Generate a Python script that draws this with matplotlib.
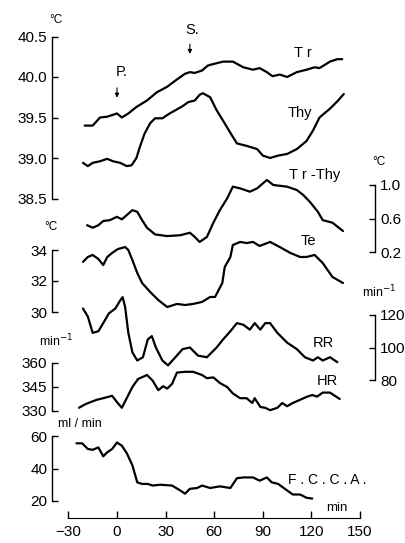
import matplotlib.pyplot as plt

plt.rcParams['font.family'] = ['Liberation Sans', 'DejaVu Sans']
plt.rcParams['lines.solid_joinstyle'] = 'round'
plt.rcParams['lines.solid_capstyle'] = 'round'

# traces (time in min)
tr_t = [-20, -15, -10.5, -6, -3, 0, 3, 7, 12, 18.5, 24.5, 31, 37, 42, 45, 48, 52.5, 56, 57.5, 65.5,
        71.5, 78, 84, 88, 92.5, 96, 100.5, 105, 111, 117, 122, 125, 131.5, 136, 139]
tr_v = [39.40, 39.40, 39.50, 39.51, 39.53, 39.55, 39.50, 39.55, 39.63, 39.71, 39.81, 39.88, 39.97,
        40.04, 40.06, 40.05, 40.08, 40.14, 40.15, 40.19, 40.19, 40.12, 40.09, 40.11, 40.06, 40.01,
        40.03, 40.00, 40.06, 40.09, 40.12, 40.11, 40.19, 40.22, 40.22]

thy_t = [-21, -18, -15, -10.5, -6, -2.5, 2, 6, 9, 12, 14, 17, 20.5, 23.5, 28, 32.5, 37, 40.5, 44, 48,
         51, 53, 57.5, 61.5, 65.5, 70, 74, 80, 86.5, 90, 94.5, 99.5, 105, 111, 117, 121, 125, 131.5,
         136.5, 140]
thy_v = [38.94, 38.90, 38.94, 38.96, 38.99, 38.96, 38.94, 38.90, 38.91, 39.00, 39.13, 39.30, 39.43,
         39.49, 39.49, 39.55, 39.60, 39.64, 39.69, 39.71, 39.78, 39.80, 39.75, 39.59, 39.46, 39.31,
         39.18, 39.15, 39.11, 39.03, 39.00, 39.03, 39.05, 39.11, 39.21, 39.34, 39.50, 39.61, 39.71,
         39.79]

diff_t = [-18.5, -15, -11.5, -8.5, -4.5, 0, 3, 6, 9.5, 12.5, 15.5, 18.5, 23.5, 31, 39, 45, 48, 51,
          55.5, 59.5, 63.5, 68, 71.5, 76, 82, 86.5, 92.5, 96.5, 105, 111, 115, 119, 124, 127, 133,
          139.5]
diff_v = [0.52, 0.49, 0.52, 0.57, 0.58, 0.62, 0.59, 0.64, 0.70, 0.68, 0.58, 0.49, 0.41, 0.39, 0.40,
          0.43, 0.38, 0.32, 0.38, 0.55, 0.70, 0.84, 0.98, 0.96, 0.92, 0.96, 1.06, 1.00, 0.98, 0.94,
          0.88, 0.80, 0.68, 0.58, 0.55, 0.45]

te_t = [-21, -18, -15, -11.5, -8.5, -6, -3, 0.5, 5, 7, 9.5, 12.5, 15.5, 20.5, 25.5, 31, 37, 42, 47,
        52.5, 57.5, 60.5, 65, 66.5, 70, 71.5, 76, 80, 84, 88, 94.5, 100.5, 107, 113, 117, 122, 127,
        133, 139.5]
te_v = [33.23, 33.55, 33.68, 33.42, 33.03, 33.55, 33.81, 34.06, 34.19, 34.00, 33.35, 32.52, 31.87,
        31.29, 30.77, 30.32, 30.52, 30.45, 30.52, 30.65, 30.97, 30.97, 31.87, 32.90, 33.55, 34.32,
        34.52, 34.45, 34.52, 34.26, 34.52, 34.19, 33.81, 33.55, 33.55, 33.68, 33.16, 32.26, 31.87]

rr_t = [-21, -18, -15, -11.5, -8.5, -5, -1, 2, 3.5, 5, 7, 9.5, 12.5, 16, 19, 21.5, 24, 28, 31.5, 36,
        40.5, 45, 50, 55.5, 58.5, 61.5, 65.5, 70, 74, 78, 82, 85, 88.5, 91.5, 94.5, 99, 105, 111,
        116, 121, 124, 127, 131.5, 136]
rr_v = [124, 119, 109, 110, 115, 121, 124, 129, 131, 125, 109, 97, 92, 94, 105, 107, 100, 92, 89, 94,
        99, 100, 95, 94, 97, 100, 105, 110, 115, 114, 111, 115, 111, 115, 115, 109, 103, 99, 94, 92,
        94, 92, 94, 91]

hr_t = [-23.5, -20, -16.5, -12.5, -8.5, -3, 0, 3, 6, 9.5, 13, 18.5, 22, 25.5, 28.5, 31, 34, 37, 42,
        47, 52.5, 55.5, 59.5, 63.5, 68, 71.5, 76, 80, 83.5, 85, 88.5, 91.5, 94.5, 99, 102, 105, 108.5,
        113, 117.5, 120.5, 123.5, 127, 131.5, 137.5]
hr_v = [332, 334, 335.5, 337, 338, 339.5, 335.5, 332, 338, 345, 350, 352.5, 349, 343, 345.5, 344, 347,
        354, 354.5, 354.5, 352.5, 350.5, 351, 347.5, 345, 341, 338, 338, 335, 338, 332.5, 332, 330.5,
        332, 335, 333, 335, 337, 339, 340, 339, 341.5, 341.5, 337.5]

fcca_t = [-25, -21.5, -18, -15, -11.5, -8.5, -6, -3, 0, 3, 6, 9.5, 12.5, 15.5, 19, 22, 26.5, 34, 39,
          42, 45, 49.5, 52.5, 57.5, 63.5, 70, 74, 78, 84, 88, 92.5, 95.5, 99.5, 105, 108.5, 113, 117,
          120.5]
fcca_v = [55.5, 55.5, 52, 51.5, 53, 47.5, 50, 52, 56, 54, 49.5, 42, 31.5, 30.5, 30.5, 29.5, 30, 29.5,
          26.5, 24.5, 27.5, 28, 29.5, 28, 29, 28, 34, 34.5, 34.5, 32.5, 34.5, 31.5, 30.5, 26.5, 24,
          24, 22, 21.5]

x_ticks = [-30, 0, 30, 60, 90, 120, 150]

W, H = 406, 543
X0, PPM = 117, 1.62          # pixel of t=0, pixels per minute
xlim = (-X0 / PPM, (W - X0) / PPM)

fig = plt.figure(figsize=(W / 100, H / 100), dpi=100)


def layer(v_hi, y_hi, v_lo, y_lo):
    # transparent full-figure axes, y scaled so v_hi sits at pixel row y_hi
    ax = fig.add_axes([0, 0, 1, 1], facecolor='none')
    s = (y_lo - y_hi) / (v_hi - v_lo)
    ax.set_xlim(*xlim)
    ax.set_ylim(v_hi - (H - y_hi) / s, v_hi + y_hi / s)
    for sp in ax.spines.values():
        sp.set_visible(False)
    ax.set_xticks([])
    ax.set_yticks([])
    return ax


def scale_bar(ax, side, ticks, fmt):
    sp = ax.spines[side]
    sp.set_visible(True)
    sp.set_linewidth(1.0)
    sp.set_position(('data', -40 if side == 'left' else 159.3))
    sp.set_bounds(min(ticks), max(ticks))
    ax.yaxis.set_ticks_position(side)
    ax.set_yticks(ticks)
    ax.set_yticklabels([fmt % v for v in ticks])
    ax.tick_params(axis='y', direction='in', length=4.5, width=1, pad=3.5, labelsize=11)


def ftext(x, y, s, **kw):
    fig.text(x / W, 1 - y / H, s, ha='center', va='center', **kw)


lw = 1.6
ax_t = layer(40.0, 77, 39.0, 158)
ax_t.plot(tr_t, tr_v, color='k', lw=lw)
ax_t.plot(thy_t, thy_v, color='k', lw=lw)
scale_bar(ax_t, 'left', [38.5, 39.0, 39.5, 40.0, 40.5], '%.1f')

ax_d = layer(1.0, 185, 0.2, 252)
ax_d.plot(diff_t, diff_v, color='k', lw=lw)
scale_bar(ax_d, 'right', [0.2, 0.6, 1.0], '%.1f')

ax_te = layer(34, 250, 30, 312)
ax_te.plot(te_t, te_v, color='k', lw=lw)
scale_bar(ax_te, 'left', [30, 32, 34], '%d')

ax_rr = layer(120, 315, 80, 380)
ax_rr.plot(rr_t, rr_v, color='k', lw=lw)
scale_bar(ax_rr, 'right', [80, 100, 120], '%d')

ax_hr = layer(360, 363, 330, 411)
ax_hr.plot(hr_t, hr_v, color='k', lw=lw)
scale_bar(ax_hr, 'left', [330, 345, 360], '%d')

ax_f = layer(60, 436, 20, 501)
ax_f.plot(fcca_t, fcca_v, color='k', lw=lw)
scale_bar(ax_f, 'left', [20, 40, 60], '%d')

# time axis
ax_x = fig.add_axes([0, (H - 518) / H, 1, 0.05], facecolor='none')
ax_x.set_xlim(*xlim)
ax_x.set_yticks([])
for side in ['top', 'left', 'right']:
    ax_x.spines[side].set_visible(False)
ax_x.spines['bottom'].set_bounds(-30, 150)
ax_x.set_xticks(x_ticks)
ax_x.tick_params(axis='x', direction='in', length=5, width=1, pad=5, labelsize=11)

# event arrows
arrow = dict(arrowstyle='-|>', color='k', lw=0.8, mutation_scale=6)
ax_t.annotate('', xy=(0, 39.71), xytext=(0, 39.90), arrowprops=arrow)
ax_t.annotate('', xy=(45, 40.25), xytext=(45, 40.44), arrowprops=arrow)
ftext(122, 72, 'P.', fontsize=10.5)
ftext(192, 30, 'S.', fontsize=10.5)

# trace names
ftext(303, 53, 'T r', fontsize=10.5)
ftext(300, 113, 'Thy', fontsize=10.5)
ftext(315, 175, 'T r -Thy', fontsize=10.5)
ftext(308, 241, 'Te', fontsize=10.5)
ftext(323, 343, 'RR', fontsize=10.5)
ftext(327, 381, 'HR', fontsize=10.5)
ftext(327, 480, 'F . C . C . A .', fontsize=10)
ftext(337, 508, 'min', fontsize=9.5)

# units
ftext(56, 20, '°C', fontsize=8.5)
ftext(51, 227, '°C', fontsize=8.5)
ftext(56, 341, r'min$^{-1}$', fontsize=9)
ftext(80, 424, 'ml / min', fontsize=9)
ftext(379, 162, '°C', fontsize=8.5)
ftext(379, 292, r'min$^{-1}$', fontsize=9)

fig.savefig('out.png', dpi=100)
